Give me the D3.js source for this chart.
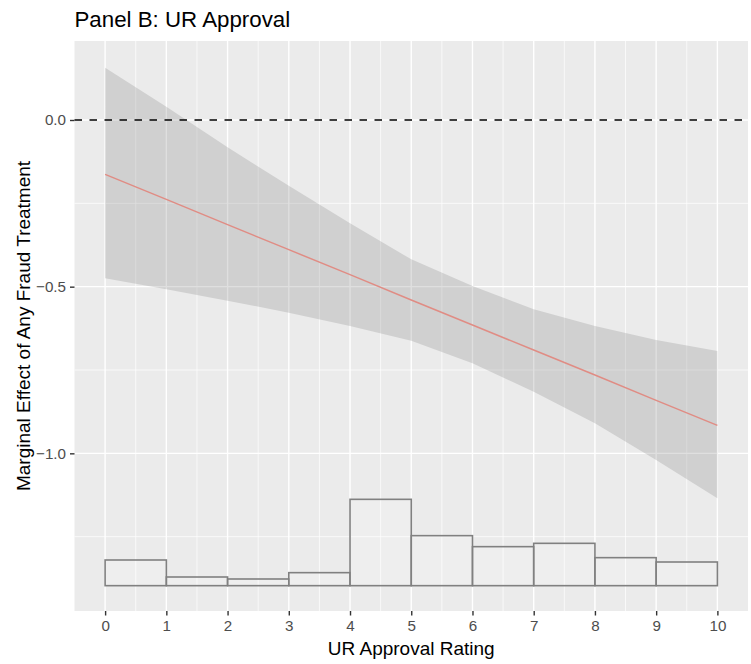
<!DOCTYPE html>
<html>
<head>
<meta charset="utf-8">
<script src="https://cdn.jsdelivr.net/npm/d3@7"></script>
<style>
    body { margin: 0; background: #fff; }
    text { font-family: "Liberation Sans", Arial, sans-serif; }
</style>
</head>
<body>
<div id="content"></div>
<script>
// moderator values (UR approval rating)
const ratings = [0, 1, 2, 3, 4, 5, 6, 7, 8, 9, 10];
// marginal effect and confidence band
const effect = [-0.163, -0.238, -0.314, -0.389, -0.464, -0.540, -0.615, -0.690, -0.765, -0.841, -0.916];
const upper = [0.157, 0.040, -0.082, -0.197, -0.310, -0.418, -0.498, -0.568, -0.618, -0.660, -0.693];
const lower = [-0.475, -0.508, -0.542, -0.578, -0.618, -0.662, -0.730, -0.815, -0.910, -1.020, -1.135];

// histogram of the moderator, drawn in the same y units
const binStarts = [0, 1, 2, 3, 4, 5, 6, 7, 8, 9];
const binTops = [-1.320, -1.371, -1.377, -1.358, -1.138, -1.247, -1.280, -1.270, -1.313, -1.326];
const histBase = -1.397;

const xTicks = [0, 1, 2, 3, 4, 5, 6, 7, 8, 9, 10];
const yTicks = [0, -0.5, -1.0];
const yMinor = [-0.25, -0.75, -1.25];

const svgWidth = 751, svgHeight = 664;
const margin = { top: 41, right: 3, bottom: 53, left: 74.5 };
const width = svgWidth - margin.left - margin.right;
const height = svgHeight - margin.top - margin.bottom;

const svg = d3.select("#content")
    .append("svg")
    .attr("width", svgWidth)
    .attr("height", svgHeight);

const g = svg.append("g")
    .attr("transform", `translate(${margin.left}, ${margin.top})`);

const x = d3.scaleLinear().domain([-0.5, 10.5]).range([0, width]);
const y = d3.scaleLinear().domain([0.237, -1.473]).range([0, height]);

// panel background
g.append("rect")
    .attr("width", width)
    .attr("height", height)
    .attr("fill", "#ebebeb");

// grid lines
const xMinor = d3.range(0.5, 10, 1);
g.append("g").selectAll("line")
    .data(xMinor)
    .join("line")
    .attr("x1", d => x(d)).attr("x2", d => x(d))
    .attr("y1", 0).attr("y2", height)
    .attr("stroke", "#fff").attr("stroke-width", 0.7);
g.append("g").selectAll("line")
    .data(yMinor)
    .join("line")
    .attr("x1", 0).attr("x2", width)
    .attr("y1", d => y(d)).attr("y2", d => y(d))
    .attr("stroke", "#fff").attr("stroke-width", 0.7);
g.append("g").selectAll("line")
    .data(xTicks)
    .join("line")
    .attr("x1", d => x(d)).attr("x2", d => x(d))
    .attr("y1", 0).attr("y2", height)
    .attr("stroke", "#fff").attr("stroke-width", 1.4);
g.append("g").selectAll("line")
    .data(yTicks)
    .join("line")
    .attr("x1", 0).attr("x2", width)
    .attr("y1", d => y(d)).attr("y2", d => y(d))
    .attr("stroke", "#fff").attr("stroke-width", 1.4);

// histogram
g.append("g").selectAll("rect")
    .data(binStarts)
    .join("rect")
    .attr("x", d => x(d))
    .attr("y", (d, i) => y(binTops[i]))
    .attr("width", d => x(d + 1) - x(d))
    .attr("height", (d, i) => y(histBase) - y(binTops[i]))
    .attr("fill", "#ffffff")
    .attr("fill-opacity", 0.18)
    .attr("stroke", "#808080")
    .attr("stroke-width", 1.6);

// confidence band
const band = d3.area()
    .x((d, i) => x(ratings[i]))
    .y0((d, i) => y(lower[i]))
    .y1((d, i) => y(upper[i]));
g.append("path")
    .datum(ratings)
    .attr("d", band)
    .attr("fill", "#7f7f7f")
    .attr("fill-opacity", 0.25);

// estimated marginal effect
const line = d3.line()
    .x((d, i) => x(ratings[i]))
    .y(d => y(d));
g.append("path")
    .datum(effect)
    .attr("d", line)
    .attr("fill", "none")
    .attr("stroke", "#e08c84")
    .attr("stroke-width", 1.5);

// zero reference line
g.append("line")
    .attr("x1", 0).attr("x2", width)
    .attr("y1", y(0)).attr("y2", y(0))
    .attr("stroke", "#000")
    .attr("stroke-width", 1.7)
    .attr("stroke-dasharray", "7.5,7.5");

// axes
const xAxis = g.append("g")
    .attr("transform", `translate(0, ${height})`)
    .call(d3.axisBottom(x).tickValues(xTicks).tickSize(4.5).tickPadding(4.5).tickFormat(d3.format("d")));
const yAxis = g.append("g")
    .call(d3.axisLeft(y).tickValues(yTicks).tickSize(4.5).tickPadding(4)
        .tickFormat(d => d3.format(".1f")(d).replace("-", "\u2212")));

[xAxis, yAxis].forEach(ax => {
    ax.select(".domain").remove();
    ax.selectAll(".tick line").attr("stroke", "#333").attr("stroke-width", 1.4);
    ax.selectAll(".tick text")
        .attr("fill", "#4d4d4d")
        .style("font-size", "15.2px")
        .style("font-family", "'Liberation Sans', Arial, sans-serif");
});

// axis titles
svg.append("text")
    .text("UR Approval Rating")
    .attr("x", margin.left + width / 2)
    .attr("y", 655)
    .attr("text-anchor", "middle")
    .style("font-size", "19px");

svg.append("text")
    .text("Marginal Effect of Any Fraud Treatment")
    .attr("transform", `translate(30, ${margin.top + height / 2}) rotate(-90)`)
    .attr("text-anchor", "middle")
    .style("font-size", "19px");

// title
svg.append("text")
    .text("Panel B: UR Approval")
    .attr("x", margin.left)
    .attr("y", 26.5)
    .style("font-size", "22.3px");
</script>
</body>
</html>
